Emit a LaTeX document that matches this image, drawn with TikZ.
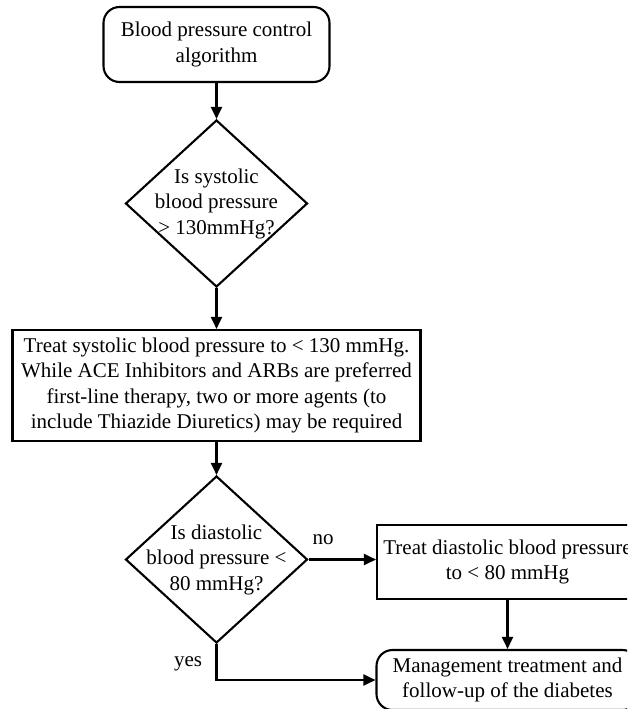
\documentclass[tikz,border=0pt]{standalone}
\usepackage{fontspec}
\setmainfont{Liberation Serif}
\usetikzlibrary{shapes.geometric,arrows.meta}
\begin{document}
\begin{tikzpicture}[x=1pt,y=-1pt,
  every node/.style={font=\fontsize{21}{25.5}\selectfont},
  base/.style={draw,line width=2.1pt,inner sep=0pt,align=center},
  terminal/.style={base,rounded corners=16pt},
  process/.style={base},
  decision/.style={base,diamond,minimum width=182pt,minimum height=167pt},
  flow/.style={line width=2.1pt,-{Triangle[length=12pt,width=11pt]}},
  tag/.style={inner sep=0pt,align=center}]
\useasboundingbox (0,0) rectangle (627,709);
\clip (0,0) rectangle (627,709);

% main column
\node[terminal,minimum width=226pt,minimum height=75pt] (start) at (216.5,44.5)
  {Blood pressure control\\algorithm};
\node[decision,label={[tag]center:Is systolic\\blood pressure\\> 130mmHg?}] (q1) at (216.5,203.5) {};
\node[process,minimum width=408pt,minimum height=111pt] (treat) at (216.5,385.5)
  {Treat systolic blood pressure to < 130 mmHg.\\While ACE Inhibitors and ARBs are preferred\\first-line therapy, two or more agents (to\\include Thiazide Diuretics) may be required};
\node[decision,label={[tag]center:Is diastolic\\blood pressure <\\80 mmHg?}] (q2) at (216.5,559.5) {};

% right column
\node[process,minimum width=261pt,minimum height=74pt] (dia) at (507.5,562)
  {Treat diastolic blood pressure\\to < 80 mmHg};
\node[terminal,minimum width=262pt,minimum height=60pt] (fin) at (507.5,680)
  {Management treatment and\\follow-up of the diabetes};

% branch labels
\node[tag] (nolab) at (323,540) {no};
\node[tag] (yeslab) at (188,664) {yes};

% connectors
\draw[flow] (start) -- (q1);
\draw[flow] (q1) -- (treat);
\draw[flow] (treat) -- (q2);
\draw[flow] (q2.east) -- (q2.east -| dia.west);
\draw[flow] (dia) -- (fin);
\draw[flow] (q2.south) |- (fin.west);
\end{tikzpicture}
\end{document}
